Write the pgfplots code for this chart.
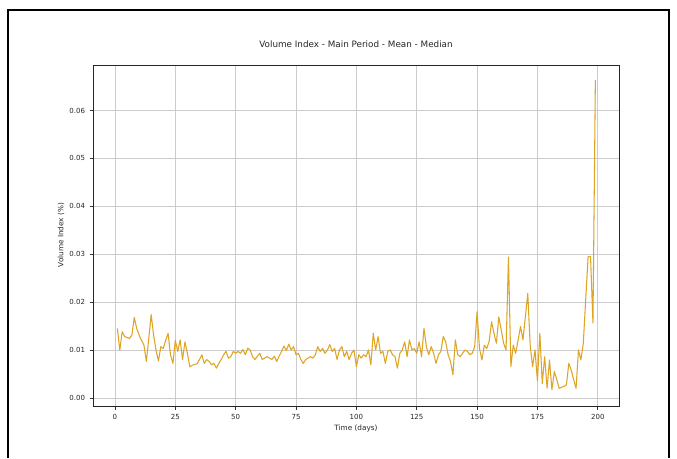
\documentclass[border=0pt]{standalone}
\usepackage{pgfplots}
\pgfplotsset{compat=1.18}
\usepackage{pgfplotstable}
\usepackage{fontspec}
\setmainfont{DejaVu Sans}
\definecolor{linecol}{RGB}{222,164,34}
\pgfplotstableread{
x y
1 0.0145
2 0.0100
3 0.0138
4 0.0128
5 0.0126
6 0.0124
7 0.0131
8 0.0168
9 0.0145
10 0.0131
11 0.0120
12 0.0110
13 0.0076
14 0.0124
15 0.0174
16 0.0131
17 0.0100
18 0.0077
19 0.0107
20 0.0103
21 0.0120
22 0.0135
23 0.0090
24 0.0072
25 0.0120
26 0.0097
27 0.0121
28 0.0080
29 0.0117
30 0.0093
31 0.0065
32 0.0068
33 0.0070
34 0.0071
35 0.0080
36 0.0090
37 0.0072
38 0.0080
39 0.0076
40 0.0069
41 0.0072
42 0.0062
43 0.0072
44 0.0080
45 0.0090
46 0.0097
47 0.0083
48 0.0086
49 0.0097
50 0.0093
51 0.0097
52 0.0093
53 0.0101
54 0.0090
55 0.0104
56 0.0100
57 0.0086
58 0.0080
59 0.0087
60 0.0093
61 0.0080
62 0.0083
63 0.0086
64 0.0083
65 0.0080
66 0.0087
67 0.0076
68 0.0087
69 0.0097
70 0.0108
71 0.0099
72 0.0112
73 0.0100
74 0.0107
75 0.0090
76 0.0093
77 0.0080
78 0.0072
79 0.0080
80 0.0083
81 0.0086
82 0.0083
83 0.0090
84 0.0107
85 0.0097
86 0.0103
87 0.0093
88 0.0100
89 0.0111
90 0.0097
91 0.0103
92 0.0080
93 0.0100
94 0.0107
95 0.0086
96 0.0097
97 0.0080
98 0.0093
99 0.0100
100 0.0065
101 0.0090
102 0.0083
103 0.0090
104 0.0086
105 0.0100
106 0.0069
107 0.0135
108 0.0100
109 0.0128
110 0.0093
111 0.0097
112 0.0072
113 0.0097
114 0.0100
115 0.0090
116 0.0086
117 0.0062
118 0.0093
119 0.0100
120 0.0117
121 0.0086
122 0.0121
123 0.0100
124 0.0103
125 0.0093
126 0.0117
127 0.0086
128 0.0145
129 0.0107
130 0.0090
131 0.0107
132 0.0093
133 0.0072
134 0.0090
135 0.0097
136 0.0128
137 0.0117
138 0.0090
139 0.0076
140 0.0048
141 0.0121
142 0.0090
143 0.0086
144 0.0093
145 0.0100
146 0.0097
147 0.0090
148 0.0093
149 0.0107
150 0.0180
151 0.0103
152 0.0079
153 0.0110
154 0.0103
155 0.0118
156 0.0159
157 0.0135
158 0.0114
159 0.0169
160 0.0142
161 0.0114
162 0.0100
163 0.0294
164 0.0065
165 0.0110
166 0.0093
167 0.0121
168 0.0149
169 0.0121
170 0.0169
171 0.0218
172 0.0110
173 0.0065
174 0.0100
175 0.0035
176 0.0135
177 0.0030
178 0.0086
179 0.0020
180 0.0079
181 0.0017
182 0.0055
183 0.0038
184 0.0020
185 0.0022
186 0.0024
187 0.0027
188 0.0072
189 0.0058
190 0.0038
191 0.0020
192 0.0100
193 0.0079
194 0.0114
195 0.0205
196 0.0295
197 0.0295
198 0.0156
199 0.0664
}\datatable
\begin{document}
\begin{tikzpicture}[x=1pt,y=1pt]
\useasboundingbox (0,0) rectangle (677,458);
\fill[white] (0,0) rectangle (677,458);
\draw[black, line width=1.8pt] (8,0) -- (8,448) -- (669,448) -- (669,0);
\begin{axis}[
  at={(93pt,52pt)}, anchor=south west,
  width=526.5pt, height=341pt, scale only axis,
  xmin=-9.1, xmax=209,
  ymin=-0.0017, ymax=0.0695,
  xtick={0,25,...,200},
  ytick={0,0.01,0.02,0.03,0.04,0.05,0.06},
  scaled y ticks=false,
  yticklabel style={/pgf/number format/fixed, /pgf/number format/precision=2, /pgf/number format/fixed zerofill},
  /pgf/number format/assume math mode=true,
  ticklabel style={font=\fontsize{7}{8}\selectfont, text=black!85},
  tick align=outside,
  major tick length=3.5pt,
  tick style={black!80, line width=0.6pt},
  xtick pos=bottom, ytick pos=left,
  axis line style={black!85, line width=0.7pt},
  grid=major,
  major grid style={black!20, line width=0.7pt},
  xticklabel style={yshift=-1pt},
  yticklabel style={xshift=-1pt},
  clip=true,
]
\addplot[linecol, line width=1.05pt, line join=round] table[x=x,y=y] {\datatable};
\end{axis}
\node[font=\fontsize{8.8}{10}\selectfont, text=black!85] at (356,414) {Volume Index - Main Period - Mean - Median};
\node[font=\fontsize{7.3}{8}\selectfont, text=black!85] at (356,30) {Time (days)};
\node[font=\fontsize{7.3}{8}\selectfont, text=black!85, rotate=90] at (61,223) {Volume Index (\%)};
\end{tikzpicture}
\end{document}
